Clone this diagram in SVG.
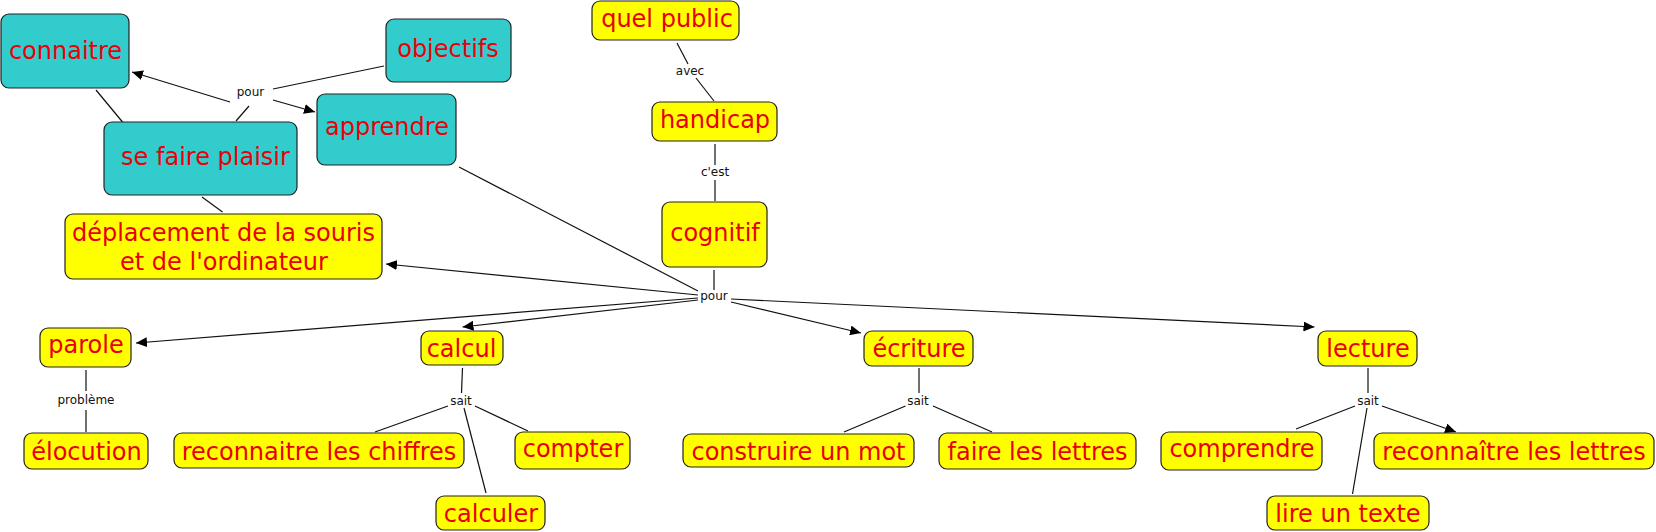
<svg xmlns="http://www.w3.org/2000/svg" width="1656" height="532" viewBox="0 0 1656 532">
<style>
.n rect{stroke:#222;stroke-width:1.2}
.t rect{fill:#33cccc}
.y rect{fill:#ffff00}
.n text{font-family:"DejaVu Sans",Verdana,sans-serif;font-size:24px;fill:#e8000b;text-anchor:middle}
.lbl{font-family:"DejaVu Sans",Verdana,sans-serif;font-size:12px;fill:#111;text-anchor:middle}
#connectors line{stroke:#111;stroke-width:1.2;fill:none}
#connectors line.a{marker-end:url(#arr)}
</style>
<defs>
<marker id="arr" markerUnits="userSpaceOnUse" markerWidth="11" markerHeight="10" refX="11" refY="5" orient="auto" viewBox="0 0 11 10">
<path d="M0,0 L11,5 L0,10 z" fill="#000"/>
</marker>
</defs>
<rect width="1656" height="532" fill="#fff"/>
<g id="connectors">
<line class="a" x1="230" y1="102" x2="132" y2="72"/>
<line x1="384" y1="66" x2="273" y2="89"/>
<line class="a" x1="273" y1="100" x2="315" y2="112"/>
<line x1="249" y1="106" x2="236" y2="121"/>
<line x1="96" y1="90" x2="122.5" y2="122"/>
<line x1="202" y1="197" x2="222.5" y2="212"/>
<line x1="677" y1="43" x2="688" y2="64"/>
<line x1="696" y1="78" x2="714" y2="101"/>
<line x1="715" y1="144" x2="715" y2="165"/>
<line x1="715" y1="180" x2="715" y2="201"/>
<line x1="714" y1="270" x2="714" y2="290"/>
<line x1="459" y1="167" x2="698" y2="291"/>
<line class="a" x1="698" y1="295" x2="386" y2="264"/>
<line class="a" x1="698" y1="298" x2="136" y2="343"/>
<line class="a" x1="698" y1="300" x2="462.5" y2="327"/>
<line class="a" x1="731" y1="302" x2="861" y2="333"/>
<line class="a" x1="731" y1="299" x2="1314.5" y2="327"/>
<line x1="86" y1="370" x2="86" y2="391"/>
<line x1="86" y1="410" x2="86" y2="432"/>
<line x1="462.5" y1="368" x2="461.5" y2="393"/>
<line x1="448" y1="406" x2="375" y2="432"/>
<line x1="475" y1="406" x2="528" y2="431"/>
<line x1="464" y1="408" x2="486" y2="493"/>
<line x1="919" y1="368" x2="919" y2="393"/>
<line x1="905.5" y1="406" x2="844" y2="432"/>
<line x1="933" y1="406" x2="992" y2="432"/>
<line x1="1368" y1="368" x2="1368" y2="393"/>
<line x1="1355" y1="406" x2="1296" y2="429"/>
<line class="a" x1="1382" y1="406" x2="1456" y2="432"/>
<line x1="1367" y1="408" x2="1352.5" y2="494"/>
<text class="lbl" x="250.5" y="96">pour</text>
<text class="lbl" x="690" y="75">avec</text>
<text class="lbl" x="715" y="176">c'est</text>
<text class="lbl" x="714" y="300">pour</text>
<text class="lbl" x="86" y="404">problème</text>
<text class="lbl" x="461" y="405">sait</text>
<text class="lbl" x="918" y="405">sait</text>
<text class="lbl" x="1368" y="405">sait</text>
</g>
<g id="connaitre" class="n t"><rect x="1" y="14" width="128" height="74" rx="8"/><text x="65.5" y="59">connaitre</text></g>
<g id="objectifs" class="n t"><rect x="386" y="19" width="125" height="63" rx="8"/><text x="448" y="57">objectifs</text></g>
<g id="se-faire-plaisir" class="n t"><rect x="104" y="122" width="193" height="73" rx="8"/><text x="205.5" y="165">se faire plaisir</text></g>
<g id="apprendre" class="n t"><rect x="317" y="94" width="139" height="71" rx="8"/><text x="387" y="135">apprendre</text></g>
<g id="quel-public" class="n y"><rect x="592" y="1" width="147" height="39" rx="8"/><text x="667" y="27">quel public</text></g>
<g id="handicap" class="n y"><rect x="652" y="102" width="125" height="39" rx="8"/><text x="715" y="128">handicap</text></g>
<g id="cognitif" class="n y"><rect x="662" y="202" width="105" height="65" rx="8"/><text x="715" y="241">cognitif</text></g>
<g id="deplacement" class="n y"><rect x="65" y="214" width="317" height="65" rx="8"/><text x="223.5" y="241">déplacement de la souris</text><text x="224" y="270">et de l'ordinateur</text></g>
<g id="parole" class="n y"><rect x="40" y="328" width="91" height="39" rx="8"/><text x="86" y="353">parole</text></g>
<g id="calcul" class="n y"><rect x="421" y="331" width="82" height="34" rx="8"/><text x="461.5" y="357">calcul</text></g>
<g id="ecriture" class="n y"><rect x="864" y="331" width="109" height="35" rx="8"/><text x="919" y="357">écriture</text></g>
<g id="lecture" class="n y"><rect x="1318" y="331" width="99" height="35" rx="8"/><text x="1368" y="357">lecture</text></g>
<g id="elocution" class="n y"><rect x="24" y="433" width="124" height="36" rx="8"/><text x="86.5" y="460">élocution</text></g>
<g id="reconnaitre-chiffres" class="n y"><rect x="174" y="433" width="290" height="35" rx="8"/><text x="319" y="460">reconnaitre les chiffres</text></g>
<g id="compter" class="n y"><rect x="515" y="432" width="115" height="37" rx="8"/><text x="573" y="457">compter</text></g>
<g id="calculer" class="n y"><rect x="436" y="496" width="109" height="34" rx="8"/><text x="491" y="522">calculer</text></g>
<g id="construire" class="n y"><rect x="683" y="434" width="231" height="33" rx="8"/><text x="798.5" y="460">construire un mot</text></g>
<g id="faire-lettres" class="n y"><rect x="939" y="433" width="197" height="36" rx="8"/><text x="1037.5" y="460">faire les lettres</text></g>
<g id="comprendre" class="n y"><rect x="1161" y="432" width="161" height="38" rx="8"/><text x="1242" y="457">comprendre</text></g>
<g id="reconnaitre-lettres" class="n y"><rect x="1374" y="433" width="280" height="36" rx="8"/><text x="1514" y="460">reconnaître les lettres</text></g>
<g id="lire" class="n y"><rect x="1267" y="496" width="162" height="34" rx="8"/><text x="1348" y="522">lire un texte</text></g>
</svg>
